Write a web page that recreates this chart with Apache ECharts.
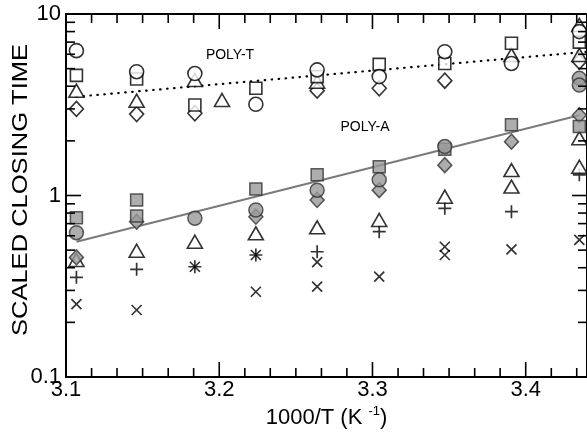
<!DOCTYPE html>
<html><head><meta charset="utf-8">
<script src="https://cdn.jsdelivr.net/npm/echarts@6/dist/echarts.min.js"></script>
<style>html,body{margin:0;padding:0;background:#fff}#c{width:587px;height:434px}</style>
</head><body><div id="c"></div>
<script>
// x positions (1000/T, K^-1) of the measurement columns
const xs = [3.1068, 3.1461, 3.1841, 3.2018, 3.2239, 3.2639, 3.3044, 3.3472, 3.3907, 3.435];
// POLY-T (open symbols)
const polyTCircle   = [6.28, 4.81, 4.7, null, 3.18, 4.92, 4.52, 6.2, 5.34, 8.0];
const polyTSquare   = [4.59, 4.38, 3.15, null, 3.9, 4.52, 5.28, 5.34, 6.9, 7.0];
const polyTTriangle = [3.78, 3.33, 4.33, 3.36, null, 4.24, null, null, 5.95, 8.7];
const polyTTriangle2= [null, null, null, null, null, null, null, null, null, 5.95];
const polyTDiamond  = [3.0, 2.81, 2.84, null, null, 3.78, 3.9, 4.29, null, 5.46];
// POLY-A (filled and open symbols)
const polyASquare   = [0.755, 0.944, null, null, 1.086, 1.30, 1.44, 1.8, 2.45, 2.4];
const polyASquare2  = [null, 0.771, null, null, null, null, null, null, null, null];
const polyACircle   = [0.624, null, 0.749, null, 0.832, 1.07, 1.22, 1.86, null, 4.42];
const polyACircle2  = [null, null, null, null, null, null, null, null, null, 4.06];
const polyADiamond  = [0.456, 0.717, null, null, 0.764, 0.945, 1.07, 1.47, 1.98, 2.77];
const polyATriangle = [0.441, 0.496, 0.556, null, 0.619, 0.668, 0.733, 0.985, 1.38, 2.07];
const polyATriangle2= [null, null, null, null, null, null, null, null, 1.12, 1.44];
const polyAPlus     = [0.354, 0.392, 0.405, null, 0.47, 0.49, 0.632, 0.85, 0.814, 1.30];
const polyACross    = [0.252, 0.234, 0.405, null, 0.47, 0.43, 0.357, 0.522, 0.505, 0.57];
const polyACross2   = [null, null, null, null, 0.295, 0.315, null, 0.47, null, null];
// fit lines
const polyTFitX = [3.1068, 3.44], polyTFitY = [3.5, 6.2];
const polyAFitX = [3.1068, 3.435], polyAFitY = [0.556, 2.77];
// axis ticks and labels
const xMajorTicks = [3.1, 3.2, 3.3, 3.4];
const xTickLabels = ['3.1', '3.2', '3.3', '3.4'];
const xMinorTicks = [3.1167, 3.1333, 3.15, 3.1667, 3.1833, 3.2167, 3.2333, 3.25, 3.2667, 3.2833,
                     3.3167, 3.3333, 3.35, 3.3667, 3.3833, 3.4167, 3.4333];
const yMajorTicks = [0.1, 1, 10];
const yTickLabels = ['0.1', '1', '10'];
const yMinorTicks = [0.2, 0.3, 0.4, 0.5, 0.6, 0.7, 0.8, 0.9, 2, 3, 4, 5, 6, 7, 8, 9];

const X_MIN = 3.1, X_MAX = 3.44, Y_MIN = 0.1, Y_MAX = 10;
const FONT = 'Liberation Sans, Arial, Helvetica, sans-serif';
const pair = (ys) => xs.map((x, i) => ys[i] == null ? null : [x, ys[i]]).filter(Boolean);
const zipXY = (a, b) => a.map((x, i) => [x, b[i]]);

const openStyle = {color: '#fff', borderColor: '#000', borderWidth: 1.6};
const fillStyle = {color: '#999999', borderColor: '#333', borderWidth: 1.5};
const strokeStyle = {color: 'transparent', borderColor: '#000', borderWidth: 1.7};
const PLUS = 'path://M0,6L12,6M6,0L6,12';
const CROSS = 'path://M0,0L10,10M10,0L0,10';

function sc(data, symbol, size, style) {
  return {type: 'scatter', xAxisIndex: 0, yAxisIndex: 0, data: pair(data), symbol: symbol,
          symbolSize: size, itemStyle: style, z: 3, silent: true};
}

const frameLine = {show: true, onZero: false, lineStyle: {color: '#000', width: 2}};
const hidden = () => ({splitLine: {show: false}, axisTick: {show: false}, axisLabel: {show: false}});

const chart = echarts.init(document.getElementById('c'), null, {renderer: 'canvas'});
chart.setOption({
  animation: false,
  backgroundColor: '#fff',
  grid: {left: 66, top: 14, width: 521, height: 363, outerBoundsMode: 'none'},
  xAxis: [
    Object.assign({type: 'value', min: X_MIN, max: X_MAX, position: 'bottom', axisLine: frameLine,
      name: '1000/T (K {sup|-1})', nameLocation: 'middle', nameGap: 28,
      nameTextStyle: {color: '#000', fontSize: 22, fontFamily: FONT,
        rich: {sup: {fontSize: 13, fontFamily: FONT, color: '#000', padding: [0, 0, 12, 0]}}}}, hidden()),
    Object.assign({type: 'value', min: X_MIN, max: X_MAX, position: 'top', axisLine: frameLine}, hidden())
  ],
  yAxis: [
    Object.assign({type: 'log', logBase: 10, min: Y_MIN, max: Y_MAX, position: 'left', axisLine: frameLine}, hidden()),
    Object.assign({type: 'log', logBase: 10, min: Y_MIN, max: Y_MAX, position: 'right', axisLine: frameLine}, hidden())
  ],
  series: [
    {type: 'line', xAxisIndex: 0, yAxisIndex: 0, data: zipXY(polyTFitX, polyTFitY), symbol: 'none', silent: true, z: 2,
     lineStyle: {color: '#000', width: 2.2, type: [0.5, 6.5], cap: 'round'}},
    {type: 'line', xAxisIndex: 0, yAxisIndex: 0, data: zipXY(polyAFitX, polyAFitY), symbol: 'none', silent: true, z: 2,
     lineStyle: {color: '#7a7a7a', width: 2}},
    sc(polyTDiamond, 'diamond', [14, 15], openStyle),
    sc(polyTTriangle, 'triangle', [15, 13], openStyle),
    sc(polyTTriangle2, 'triangle', [15, 13], openStyle),
    sc(polyTSquare, 'rect', 12, openStyle),
    sc(polyTCircle, 'circle', 14, openStyle),
    sc(polyACross, CROSS, 10, strokeStyle),
    sc(polyACross2, CROSS, 10, strokeStyle),
    sc(polyAPlus, PLUS, 13, strokeStyle),
    sc(polyATriangle, 'triangle', [15, 13], openStyle),
    sc(polyATriangle2, 'triangle', [15, 13], openStyle),
    sc(polyADiamond, 'diamond', [14, 15], fillStyle),
    sc(polyASquare, 'rect', 12, fillStyle),
    sc(polyASquare2, 'rect', 12, fillStyle),
    sc(polyACircle, 'circle', 14, fillStyle),
    sc(polyACircle2, 'circle', 14, fillStyle)
  ]
});

// ticks and tick labels placed through the chart's own scales
const toPx = (x, y) => chart.convertToPixel({xAxisIndex: 0, yAxisIndex: 0}, [x, y]);
const MAJOR_LEN = 15, MINOR_LEN = 9;
const g = [];
function seg(x1, y1, x2, y2) {
  g.push({type: 'line', silent: true, z: 10, shape: {x1: x1, y1: y1, x2: x2, y2: y2}, style: {stroke: '#000', lineWidth: 1.6}});
}
function xTick(v, len) { const b = toPx(v, Y_MIN), t = toPx(v, Y_MAX); seg(b[0], b[1], b[0], b[1] - len); seg(t[0], t[1], t[0], t[1] + len); }
function yTick(v, len) { const l = toPx(X_MIN, v), r = toPx(X_MAX, v); seg(l[0], l[1], l[0] + len, l[1]); seg(r[0], r[1], r[0] - len, r[1]); }
xMajorTicks.forEach(v => xTick(v, MAJOR_LEN));
xMinorTicks.forEach(v => xTick(v, MINOR_LEN));
yMajorTicks.forEach(v => yTick(v, MAJOR_LEN));
yMinorTicks.forEach(v => yTick(v, MINOR_LEN));
const lab = () => ({fill: '#000', fontSize: 22, fontFamily: FONT});
xMajorTicks.forEach((v, i) => { const p = toPx(v, Y_MIN);
  g.push({type: 'text', silent: true, z: 10, x: p[0], y: p[1] + 13, style: Object.assign({text: xTickLabels[i], align: 'center', verticalAlign: 'middle'}, lab())}); });
yMajorTicks.forEach((v, i) => { const p = toPx(X_MIN, v);
  g.push({type: 'text', silent: true, z: 10, x: p[0] - 5, y: p[1], style: Object.assign({text: yTickLabels[i], align: 'right', verticalAlign: 'middle'}, lab())}); });
g.push({type: 'text', silent: true, x: 21, y: 190, rotation: Math.PI / 2, scaleX: 1.16,
  style: {text: 'SCALED CLOSING TIME', fill: '#000', fontSize: 22, fontFamily: FONT, align: 'center', verticalAlign: 'middle'}});
g.push({type: 'text', silent: true, x: 230, y: 55, style: {text: 'POLY-T', fill: '#000', fontSize: 14, fontFamily: FONT, align: 'center', verticalAlign: 'middle'}});
g.push({type: 'text', silent: true, x: 365, y: 127, style: {text: 'POLY-A', fill: '#000', fontSize: 14, fontFamily: FONT, align: 'center', verticalAlign: 'middle'}});
chart.setOption({graphic: g});
</script></body></html>
